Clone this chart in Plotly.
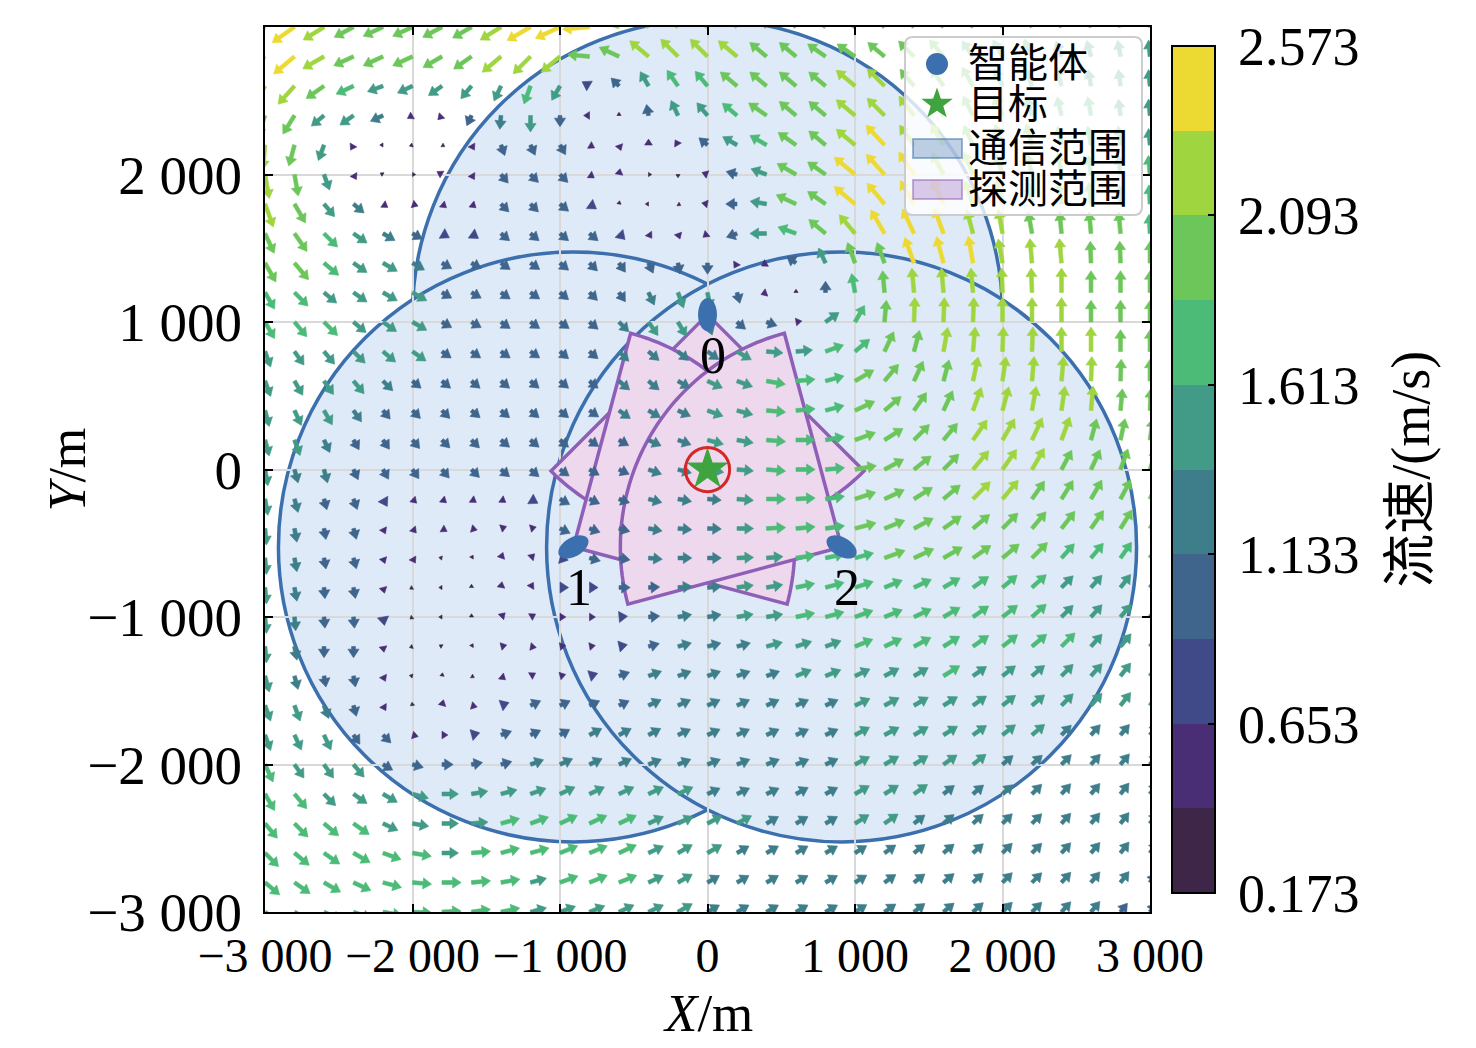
import numpy as np
import plotly.graph_objects as go

# ---------------- data ----------------
GRID_X = [-3000 + 200 * i for i in range(31)]          # quiver columns (m)
GRID_Y = [3000 - 200 * i for i in range(31)]           # quiver rows, top -> bottom (m)

# speed bins of the colour bar (m/s) and their colours
SPEED_EDGES = [0.173, 0.413, 0.653, 0.893, 1.133, 1.373, 1.613, 1.853, 2.093, 2.333, 2.573]
LEVEL_COLORS = ["#3d2648", "#492d75", "#404a88", "#3f658d", "#3e7e8b",
                "#429b86", "#4cbb78", "#6dc659", "#9fd53f", "#ecda32"]
CBAR_TICKS = [0.173, 0.653, 1.133, 1.613, 2.093, 2.573]
CBAR_TEXT = ["0.173", "0.653", "1.133", "1.613", "2.093", "2.573"]

# flow direction (deg, counter-clockwise from +x) at every grid node, row by row from the top
FLOW_ANGLE = [
    [215, 215, 212, 208, 205, 205, 208, 210, 212, 210, 205, 185, 160, 145, 140, 138, 140, 140, 140, 142, 145, 140, 135, 130, 125, 120, 115, 110, 105, 100, 95],
    [225, 220, 210, 205, 205, 205, 210, 215, 220, 225, 220, 175, 155, 140, 135, 135, 140, 140, 140, 145, 145, 140, 135, 130, 125, 120, 115, 110, 105, 100, 95],
    [240, 228, 215, 205, 200, 205, 215, 230, 245, 250, 240, 150, 135, 120, 125, 130, 140, 140, 140, 140, 140, 135, 130, 125, 120, 115, 110, 105, 100, 97, 95],
    [250, 238, 220, 215, 205, 210, 225, 245, 265, 270, 270, 180, 90, 100, 115, 130, 140, 145, 140, 140, 140, 135, 128, 122, 117, 112, 107, 103, 100, 97, 95],
    [265, 255, 250, 240, 180, 200, 330, 300, 290, 295, 300, 330, 290, 90, 120, 140, 150, 150, 145, 140, 140, 133, 126, 120, 115, 110, 105, 102, 100, 97, 95],
    [280, 280, 290, 300, 150, 0, 150, 300, 310, 315, 315, 325, 80, 0, 270, 160, 165, 160, 150, 145, 140, 132, 124, 118, 113, 108, 104, 100, 98, 96, 95],
    [290, 300, 310, 320, 325, 340, 320, 320, 315, 315, 320, 325, 80, 180, 330, 170, 180, 170, 155, 145, 140, 130, 120, 115, 110, 105, 100, 98, 96, 94, 93],
    [295, 305, 315, 325, 330, 330, 330, 325, 320, 320, 320, 320, 315, 305, 290, 220, 200, 180, 160, 140, 130, 120, 115, 110, 105, 100, 100, 95, 95, 95, 93],
    [300, 310, 320, 325, 330, 330, 330, 330, 325, 325, 320, 315, 305, 295, 280, 270, 240, 210, 145, 115, 110, 110, 110, 105, 100, 100, 95, 95, 92, 92, 90],
    [300, 315, 320, 325, 330, 330, 330, 330, 325, 325, 320, 315, 305, 295, 290, 280, 285, 200, 90, 90, 100, 95, 95, 95, 95, 92, 92, 90, 90, 90, 90],
    [300, 310, 315, 320, 325, 330, 330, 330, 325, 325, 325, 320, 315, 305, 300, 290, 320, 340, 10, 35, 60, 85, 88, 88, 88, 90, 90, 90, 90, 90, 90],
    [290, 305, 310, 315, 320, 325, 325, 325, 325, 325, 320, 320, 315, 320, 320, 325, 330, 355, 5, 20, 40, 65, 75, 80, 85, 88, 88, 90, 90, 90, 90],
    [290, 300, 305, 310, 315, 320, 320, 320, 320, 320, 320, 320, 320, 320, 330, 335, 340, 350, 5, 15, 30, 50, 65, 75, 78, 82, 85, 85, 88, 88, 90],
    [285, 295, 300, 305, 310, 315, 315, 320, 320, 320, 320, 325, 325, 330, 335, 340, 345, 355, 5, 15, 25, 40, 55, 65, 70, 75, 80, 82, 85, 85, 88],
    [285, 290, 295, 300, 305, 310, 315, 315, 320, 320, 320, 325, 330, 335, 340, 345, 350, 355, 0, 10, 20, 32, 45, 50, 55, 60, 65, 70, 75, 78, 82],
    [280, 285, 285, 295, 300, 305, 310, 315, 320, 320, 325, 330, 335, 340, 345, 350, 355, 355, 0, 5, 10, 28, 38, 45, 50, 55, 60, 62, 65, 70, 72],
    [280, 285, 285, 290, 300, 315, 320, 325, 325, 330, 330, 335, 340, 345, 350, 355, 355, 0, 3, 8, 18, 25, 32, 40, 45, 50, 55, 58, 60, 62, 65],
    [275, 280, 280, 285, 295, 310, 330, 345, 20, 15, 335, 340, 345, 350, 355, 358, 0, 3, 5, 8, 15, 22, 28, 35, 40, 45, 50, 52, 55, 58, 60],
    [275, 280, 280, 285, 290, 300, 170, 60, 70, 45, 345, 345, 350, 355, 0, 0, 2, 5, 8, 12, 15, 20, 25, 30, 35, 40, 45, 48, 50, 55, 58],
    [275, 280, 275, 280, 285, 210, 180, 90, 80, 60, 0, 0, 0, 3, 5, 5, 8, 10, 12, 15, 18, 22, 25, 30, 35, 40, 42, 45, 48, 52, 55],
    [275, 275, 275, 275, 280, 220, 180, 90, 45, 30, 0, 0, 5, 5, 10, 10, 10, 10, 12, 15, 20, 22, 25, 30, 35, 38, 42, 45, 48, 50, 52],
    [275, 280, 270, 270, 280, 200, 150, 60, 15, 350, 10, 10, 12, 15, 15, 15, 15, 15, 18, 20, 22, 25, 28, 32, 35, 38, 40, 45, 48, 50, 52],
    [285, 285, 280, 280, 295, 170, 80, 330, 320, 30, 15, 18, 20, 20, 20, 20, 20, 20, 22, 22, 25, 28, 30, 32, 35, 38, 40, 45, 48, 52, 55],
    [290, 290, 290, 285, 300, 100, 75, 345, 20, 25, 25, 25, 25, 25, 25, 25, 25, 25, 25, 25, 25, 28, 30, 32, 35, 38, 40, 45, 48, 52, 55],
    [290, 295, 295, 305, 315, 345, 0, 15, 20, 25, 30, 28, 28, 28, 25, 25, 25, 25, 25, 25, 28, 28, 30, 32, 35, 38, 40, 45, 48, 50, 52],
    [295, 305, 305, 310, 330, 345, 0, 10, 15, 20, 25, 25, 25, 22, 22, 22, 22, 22, 22, 25, 28, 30, 32, 35, 38, 40, 42, 45, 48, 50, 52],
    [300, 310, 315, 325, 330, 345, 0, 10, 15, 20, 25, 25, 25, 25, 25, 25, 25, 25, 28, 28, 30, 32, 35, 38, 40, 42, 45, 48, 50, 52, 55],
    [310, 315, 320, 325, 335, 350, 0, 5, 15, 20, 25, 25, 25, 25, 25, 28, 28, 30, 30, 30, 32, 35, 38, 40, 42, 45, 45, 48, 50, 52, 55],
    [315, 320, 325, 330, 340, 350, 0, 5, 15, 15, 22, 22, 25, 25, 30, 30, 30, 30, 30, 30, 32, 35, 38, 40, 42, 45, 45, 48, 50, 52, 55],
    [320, 325, 330, 335, 345, 355, 0, 5, 10, 15, 20, 22, 22, 25, 30, 30, 30, 30, 30, 30, 32, 35, 38, 40, 42, 45, 45, 48, 50, 52, 55],
    [325, 330, 335, 340, 350, 358, 3, 8, 12, 15, 20, 22, 25, 25, 30, 30, 30, 30, 30, 30, 32, 35, 38, 40, 42, 45, 45, 48, 50, 52, 55],
]

# speed bin (0..9 of the colour bar) at every grid node, same layout
FLOW_LEVEL = [
    "99877777899 9888887777 7776665555",
    "99877777888 7788887777 7776665555",
    "88765555565 2356677778 8777666555",
    "77554113453 1035567778 8877766655",
    "87510001333 1111356778 9887776665",
    "87510011333 1100135779 9988777666",
    "87541111333 2000135779 9998877766",
    "77654322333 3211135678 9998877776",
    "77655433333 3333311357 7999888777",
    "66555533333 3345531036 7888888777",
    "66655533333 3455433156 7888888777",
    "55555533333 3444455566 7788888877",
    "55554333333 3444556667 7778888877",
    "55543333333 3444556667 7778888877",
    "55433333333 3344556667 7778888777",
    "54433333333 3344556667 7778887777",
    "54332111123 3344456667 7778877777",
    "54331111113 3344456667 7777777777",
    "54331100112 3344455666 7777776666",
    "54331000112 2334455666 6666665555",
    "54332000111 1234455666 6666665555",
    "54331000111 1234445556 6666666555",
    "54331000111 2344444555 5565555555",
    "55431011233 3344444445 5555555555",
    "55533112333 4444444445 5555554444",
    "65553333344 4444444445 5555444444",
    "66555555555 5555444445 5544444444",
    "66665555666 6655554445 5444444444",
    "66666656666 6655544444 4444444444",
    "66666666656 6655444444 4444444443",
    "66666666655 5555444444 4444444433",
]

AGENT_X = [0, -909, 909]
AGENT_Y = [1050, -525, -525]
AGENT_NAMES = ["0", "1", "2"]
TARGET_X, TARGET_Y = 0, 0
COMM_RADIUS = 2000
DETECT_RADIUS = 1500
DETECT_HALF_ANGLE = 45
AXIS_TICKS = [-3000, -2000, -1000, 0, 1000, 2000, 3000]
AXIS_TEXT = ["\u22123 000", "\u22122 000", "\u22121 000", "0", "1 000", "2 000", "3 000"]
LEGEND_NAMES = ["智能体", "目标", "通信范围", "探测范围"]

# ---------------- styling ----------------
FONT = "Liberation Serif, Noto Sans CJK SC, serif"
BLUE = "#3b6fae"
GREEN = "#3fa33f"
CIRCLE_FILL = "#deeaf7"
PINK_FILL = "#eed8ee"
PURPLE = "#8f5fb7"
M_PER_SPEED = 75.0      # arrow length per m/s (data units)
SHAFT_W = 26.0
HEAD_W = 76.0
HEAD_L = 58.0
PLOT_L, PLOT_T, PLOT_SIZE = 265, 27, 885   # plot area in the picture (px)
PAGE_OFFSET = 8                            # body margin of the html page


def arrow_poly(x0, y0, ang, length):
    t = np.radians(ang)
    ux, uy = np.cos(t), np.sin(t)
    nx, ny = -uy, ux
    if length >= HEAD_L:
        s, hw, hl = SHAFT_W / 2, HEAD_W / 2, HEAD_L
    else:
        k = length / HEAD_L
        s, hw, hl = 0.0, HEAD_W / 2 * k, length
    b = length - hl
    pts = [(0, s), (b, s), (b, hw), (length, 0), (b, -hw), (b, -s), (0, -s), (0, s)]
    xs = [x0 + a * ux + c * nx for a, c in pts]
    ys = [y0 + a * uy + c * ny for a, c in pts]
    return xs + [None], ys + [None]


def path_of(xs, ys):
    return "M " + " L ".join(f"{x:.4f},{y:.4f}" for x, y in zip(xs, ys)) + " Z"


def px2paper(px, py):
    return (px - PLOT_L) / PLOT_SIZE, (PLOT_T + PLOT_SIZE - py) / PLOT_SIZE


fig = go.Figure()

# quiver arrows, one filled trace per colour bin
for lvl in range(10):
    speed = (SPEED_EDGES[lvl] + SPEED_EDGES[lvl + 1]) / 2
    xs, ys = [], []
    for r, row in enumerate(FLOW_ANGLE):
        levels = FLOW_LEVEL[r].replace(" ", "")
        for c, ang in enumerate(row):
            if int(levels[c]) != lvl:
                continue
            px, py = arrow_poly(GRID_X[c], GRID_Y[r], ang, speed * M_PER_SPEED)
            xs += px
            ys += py
    fig.add_trace(go.Scatter(x=xs, y=ys, mode="lines", fill="toself",
                             fillcolor=LEVEL_COLORS[lvl],
                             line=dict(color=LEVEL_COLORS[lvl], width=0.6),
                             hoverinfo="skip", showlegend=False))

# colour bar holder
cscale = []
for i, col in enumerate(LEVEL_COLORS):
    cscale += [[i / 10, col], [(i + 1) / 10, col]]
fig.add_trace(go.Scatter(
    x=[-99999], y=[-99999], mode="markers", showlegend=False, hoverinfo="skip",
    marker=dict(color=[SPEED_EDGES[0]], colorscale=cscale, cmin=SPEED_EDGES[0], cmax=SPEED_EDGES[-1],
                showscale=True,
                colorbar=dict(x=1.0249, xanchor="left", y=0.5, yanchor="middle", len=0.957,
                              thickness=43, xpad=0, ypad=0, outlinewidth=2, outlinecolor="black",
                              tickvals=CBAR_TICKS, ticktext=["\u2009" + t for t in CBAR_TEXT],
                              ticks="inside", ticklen=8, tickwidth=2, tickcolor="black",
                              tickfont=dict(family=FONT, size=54, color="black")))))

# target
fig.add_trace(go.Scatter(x=[TARGET_X], y=[TARGET_Y], mode="markers", name=LEGEND_NAMES[1],
                         showlegend=False, hoverinfo="skip",
                         marker=dict(symbol="star", size=32, color=GREEN, line=dict(width=0))))

shapes = []
# communication ranges (under the grid)
for ax_, ay_ in zip(AGENT_X, AGENT_Y):
    shapes.append(dict(type="circle", xref="x", yref="y",
                       x0=ax_ - COMM_RADIUS, x1=ax_ + COMM_RADIUS,
                       y0=ay_ - COMM_RADIUS, y1=ay_ + COMM_RADIUS,
                       fillcolor=CIRCLE_FILL, line=dict(color=BLUE, width=3.5), layer="below"))
# detection sectors, facing the target
for ax_, ay_ in zip(AGENT_X, AGENT_Y):
    head = np.degrees(np.arctan2(TARGET_Y - ay_, TARGET_X - ax_))
    th = np.radians(np.linspace(head - DETECT_HALF_ANGLE, head + DETECT_HALF_ANGLE, 60))
    xs = [ax_] + list(ax_ + DETECT_RADIUS * np.cos(th))
    ys = [ay_] + list(ay_ + DETECT_RADIUS * np.sin(th))
    shapes.append(dict(type="path", xref="x", yref="y", path=path_of(xs, ys),
                       fillcolor=PINK_FILL, line=dict(color=PURPLE, width=3.5), layer="between"))
# agents as ellipses aligned with heading
for ax_, ay_ in zip(AGENT_X, AGENT_Y):
    head = np.arctan2(TARGET_Y - ay_, TARGET_X - ax_)
    t = np.linspace(0, 2 * np.pi, 48)
    ex, ey = 112 * np.cos(t), 64 * np.sin(t)
    xs = ax_ + ex * np.cos(head) - ey * np.sin(head)
    ys = ay_ + ex * np.sin(head) + ey * np.cos(head)
    shapes.append(dict(type="path", xref="x", yref="y", path=path_of(xs, ys),
                       fillcolor=BLUE, line=dict(width=0), layer="above"))
# ring around the target
shapes.append(dict(type="circle", xref="x", yref="y", x0=TARGET_X - 150, x1=TARGET_X + 150,
                   y0=TARGET_Y - 150, y1=TARGET_Y + 150, line=dict(color="#d62728", width=3),
                   layer="above"))

# legend (drawn by hand so the symbols keep their size)
bx0, by1 = px2paper(905, 37)
bx1, by0 = px2paper(1142, 215)
rr = 0.009
box = (f"M {bx0 + rr},{by0} L {bx1 - rr},{by0} Q {bx1},{by0} {bx1},{by0 + rr} "
       f"L {bx1},{by1 - rr} Q {bx1},{by1} {bx1 - rr},{by1} L {bx0 + rr},{by1} "
       f"Q {bx0},{by1} {bx0},{by1 - rr} L {bx0},{by0 + rr} Q {bx0},{by0} {bx0 + rr},{by0} Z")
shapes.append(dict(type="path", xref="paper", yref="paper", path=box, layer="above",
                   fillcolor="rgba(255,255,255,0.8)", line=dict(color="#cccccc", width=2)))
cx, cy = px2paper(937, 64)
cr = 11 / PLOT_SIZE
shapes.append(dict(type="circle", xref="paper", yref="paper", x0=cx - cr, x1=cx + cr,
                   y0=cy - cr, y1=cy + cr, fillcolor=BLUE, line=dict(width=0), layer="above"))
sx, sy = px2paper(937, 104)
sa = np.radians(90 + 36 * np.arange(10))
srad = np.where(np.arange(10) % 2 == 0, 16.5, 6.6) / PLOT_SIZE
shapes.append(dict(type="path", xref="paper", yref="paper",
                   path=path_of(sx + srad * np.cos(sa), sy + srad * np.sin(sa)),
                   fillcolor=GREEN, line=dict(width=0), layer="above"))
for (py0, py1), fc, lc in [((139, 158), "rgba(59,111,174,0.32)", "rgba(59,111,174,0.5)"),
                           ((180, 199), "rgba(143,95,183,0.32)", "rgba(143,95,183,0.5)")]:
    px0, qy0 = px2paper(913, py1)
    px1, qy1 = px2paper(962, py0)
    shapes.append(dict(type="rect", xref="paper", yref="paper", x0=px0, x1=px1, y0=qy0, y1=qy1,
                       fillcolor=fc, line=dict(color=lc, width=2), layer="above"))

annotations = []
for nm, ty in zip(LEGEND_NAMES, [63, 104, 148, 190]):
    tx, tyy = px2paper(966, ty)
    annotations.append(dict(x=tx, y=tyy, xref="paper", yref="paper", text=nm, showarrow=False,
                            xanchor="left", yanchor="middle",
                            font=dict(family=FONT, size=40, color="black")))
for ax_, ay_, nm in zip(AGENT_X, AGENT_Y, AGENT_NAMES):
    annotations.append(dict(x=ax_ + 35, y=ay_ - 275, xref="x", yref="y", text=nm, showarrow=False,
                            font=dict(family=FONT, size=52, color="black")))
annotations += [
    dict(x=0.5, y=-0.114, xref="paper", yref="paper", text="<i>X</i>/m", showarrow=False,
         font=dict(family=FONT, size=53, color="black"), yanchor="middle"),
    dict(x=-0.2226, y=0.5, xref="paper", yref="paper", text="<i>Y</i>/m", showarrow=False,
         textangle=-90, font=dict(family=FONT, size=52, color="black"), xanchor="center"),
    dict(x=1.294, y=0.5, xref="paper", yref="paper", text="流速/(m/s)", showarrow=False,
         textangle=-90, font=dict(family=FONT, size=54, color="black"), xanchor="center"),
]

axis_common = dict(range=[-3000, 3000], tickvals=AXIS_TICKS, ticktext=AXIS_TEXT,
                   showgrid=True, gridcolor="#d9d9d9", gridwidth=2, zeroline=False,
                   showline=True, linecolor="black", linewidth=2, mirror="ticks",
                   ticks="inside", ticklen=8, tickwidth=2, tickcolor="black", fixedrange=True)

fig.update_layout(
    width=1476, height=1048,
    margin=dict(l=PLOT_L - PAGE_OFFSET, r=1476 - PLOT_L - PLOT_SIZE + PAGE_OFFSET,
                t=PLOT_T - PAGE_OFFSET, b=1048 - PLOT_T - PLOT_SIZE + PAGE_OFFSET, autoexpand=False),
    paper_bgcolor="white", plot_bgcolor="white",
    xaxis=dict(axis_common, tickfont=dict(family=FONT, size=48, color="black")),
    yaxis=dict(axis_common, tickfont=dict(family=FONT, size=55, color="black"), ticklabelstandoff=10),
    shapes=shapes, annotations=annotations,
    showlegend=False,
    font=dict(family=FONT),
)

fig.write_html("out.html")
